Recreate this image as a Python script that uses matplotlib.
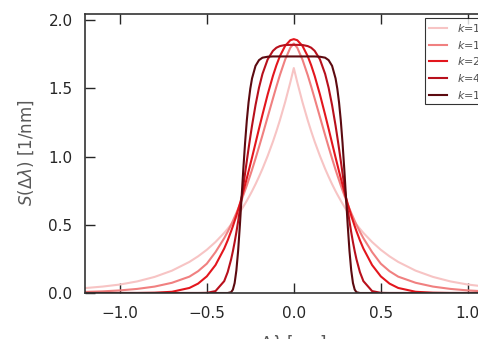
import matplotlib
matplotlib.use("Agg")
import matplotlib.pyplot as plt

# Δλ values (non-negative half; curves are symmetric about 0)
x_half = [0.0, 0.02, 0.05, 0.08, 0.1, 0.12, 0.15, 0.18, 0.2, 0.22, 0.24, 0.25, 0.26, 0.27, 0.28,
          0.29, 0.3, 0.31, 0.32, 0.33, 0.34, 0.35, 0.36, 0.38, 0.4, 0.45, 0.5, 0.55, 0.6, 0.7,
          0.8, 0.9, 1.0, 1.1, 1.2]

half_k1 = [1.65, 1.545, 1.399, 1.267, 1.186, 1.110, 1.006, 0.911, 0.853, 0.798, 0.747, 0.723, 0.700,
           0.677, 0.655, 0.634, 0.613, 0.593, 0.574, 0.555, 0.537, 0.520, 0.503, 0.471, 0.441,
           0.374, 0.317, 0.269, 0.228, 0.164, 0.118, 0.085, 0.062, 0.047, 0.036]
half_k15 = [1.83, 1.799, 1.711, 1.598, 1.514, 1.426, 1.292, 1.158, 1.071, 0.986, 0.904, 0.865, 0.827,
            0.789, 0.753, 0.718, 0.683, 0.650, 0.618, 0.587, 0.558, 0.529, 0.501, 0.449, 0.402,
            0.300, 0.215, 0.160, 0.120, 0.075, 0.047, 0.030, 0.019, 0.012, 0.008]
half_k2 = [1.862, 1.854, 1.812, 1.737, 1.670, 1.592, 1.457, 1.308, 1.205, 1.099, 0.994, 0.943, 0.892,
           0.842, 0.793, 0.745, 0.699, 0.654, 0.611, 0.569, 0.529, 0.490, 0.454, 0.386, 0.326,
           0.205, 0.122, 0.069, 0.037, 0.009, 0.002, 0.0, 0.0, 0.0, 0.0]
half_k4 = [1.82, 1.82, 1.819, 1.811, 1.799, 1.776, 1.714, 1.607, 1.506, 1.378, 1.228, 1.145, 1.059,
           0.969, 0.878, 0.787, 0.697, 0.609, 0.525, 0.446, 0.373, 0.307, 0.248, 0.153, 0.087,
           0.014, 0.001, 0.0, 0.0, 0.0, 0.0, 0.0, 0.0, 0.0, 0.0]
half_k10 = [1.735, 1.735, 1.735, 1.735, 1.735, 1.735, 1.733, 1.726, 1.708, 1.666, 1.574, 1.499, 1.398,
            1.266, 1.102, 0.911, 0.702, 0.494, 0.309, 0.166, 0.073, 0.025, 0.006, 0.0, 0.0,
            0.0, 0.0, 0.0, 0.0, 0.0, 0.0, 0.0, 0.0, 0.0, 0.0]

labels = ["$k$=1", "$k$=1.5", "$k$=2", "$k$=4", "$k$=10"]
halves = [half_k1, half_k15, half_k2, half_k4, half_k10]
colors = ["#f7c4c4", "#f08080", "#e3161d", "#b8101c", "#5c0a10"]

x_full = [-v for v in x_half[::-1]] + x_half[1:]

fig = plt.figure(figsize=(4.78, 3.39), dpi=100)
ax = fig.add_axes([85/478, 46/339, 417.6/478, 279.5/339])

for label, half, c in zip(labels, halves, colors):
    y = half[::-1] + half[1:]
    ax.plot(x_full, y, color=c, lw=1.5, label=label)

ax.set_xlim(-1.2, 1.2)
ax.set_ylim(0, 2.05)
ax.set_xticks([-1.0, -0.5, 0.0, 0.5, 1.0])
ax.set_yticks([0.0, 0.5, 1.0, 1.5, 2.0])
ax.tick_params(direction="in", length=7, width=1, top=True, right=True,
               labelsize=11, colors="0.15", pad=9)
for s in ax.spines.values():
    s.set_linewidth(1.2)
    s.set_color("0.2")
ax.set_ylabel(r"$S(\Delta\lambda)$ [1/nm]", fontsize=12, color="0.35", labelpad=9)
ax.set_xlabel(r"$\Delta\lambda$ [nm]", fontsize=12, color="0.35", labelpad=9)

leg = fig.legend(loc="upper left", bbox_to_anchor=(425/478, 1 - 18/339),
                 borderaxespad=0, fontsize=8, fancybox=False, frameon=True,
                 handlelength=1.6, handletextpad=0.9, labelspacing=0.42, borderpad=0.35)
leg.get_frame().set_edgecolor("black")
leg.get_frame().set_linewidth(0.8)
for t in leg.get_texts():
    t.set_color("0.3")

fig.savefig("out.png", dpi=100)
